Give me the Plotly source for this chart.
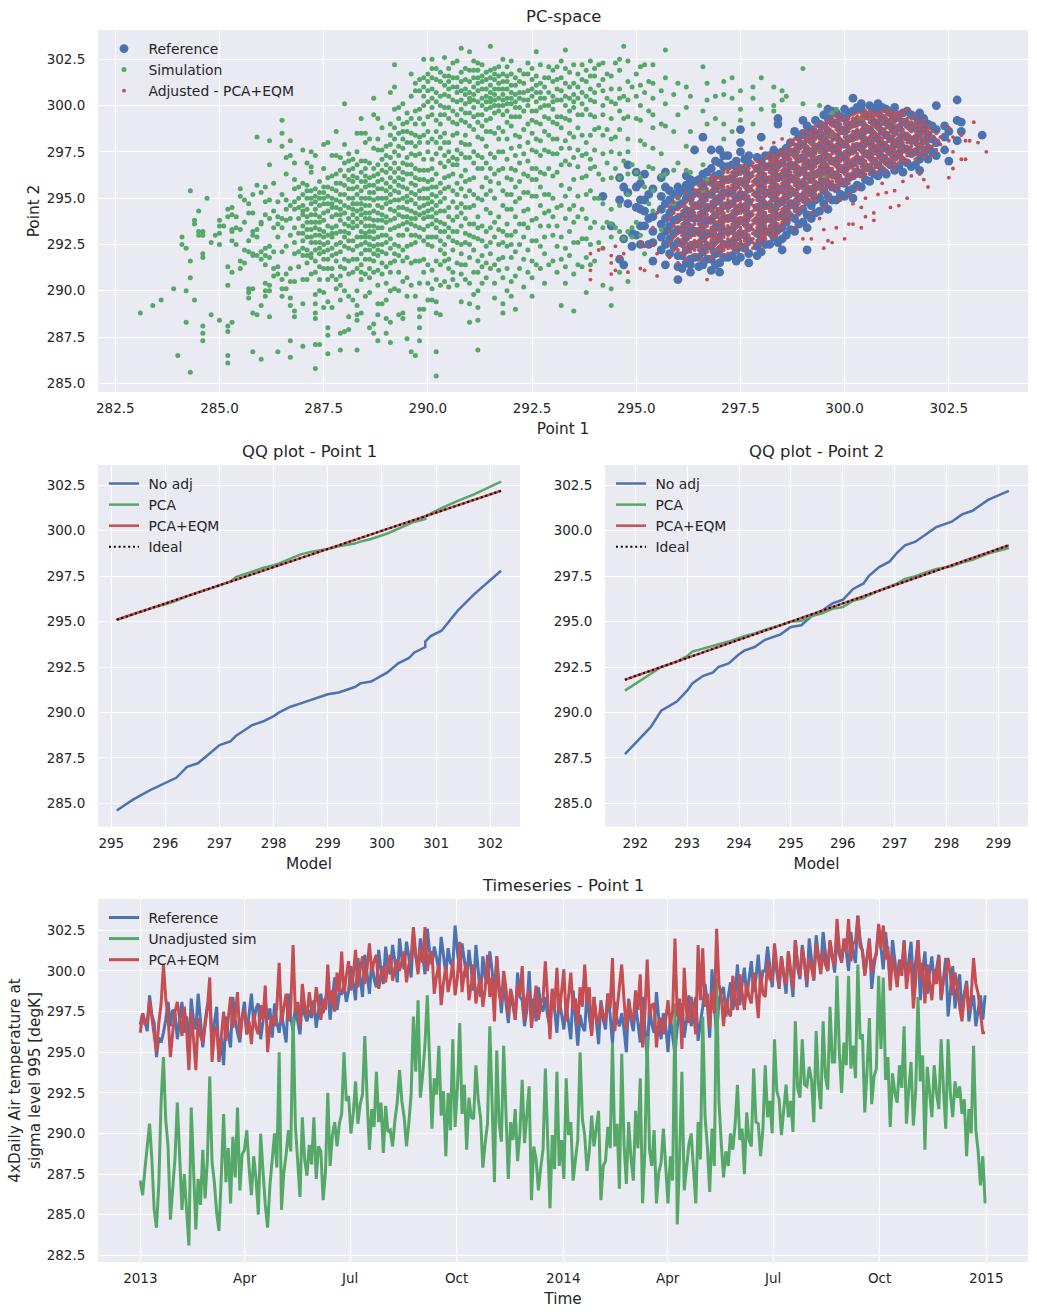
import pandas as pd
import plotly.graph_objects as go

BLUE, GREEN, RED = "#4C72B0", "#55A868", "#C44E52"
INK = "#262626"

# Scatter clouds stored as {Point 1 value: [Point 2 values]}
reference_columns = {
    294.2: [295.1], 294.4: [293.5], 294.6: [296.1, 294.9, 291.7], 294.7: [292.8, 291.4, 295.6],
    294.8: [296.8, 294.7, 295.3], 294.9: [292.4, 293.1], 295.0: [296.4, 295.6, 294.5, 293.0],
    295.1: [295.8, 294.9, 293.5, 292.5, 294.4], 295.2: [296.3, 294.9, 293.5, 294.3], 295.3: [292.5, 295.2, 293.9],
    295.4: [291.6, 293.2, 294.0, 295.5, 292.6], 295.6: [292.2, 292.9, 293.6, 294.4, 295.1, 296.1],
    295.7: [291.4, 292.5, 293.2, 293.9, 294.7, 295.6, 296.4],
    295.8: [292.0, 292.8, 293.5, 294.2, 294.9, 295.4],
    296.0: [290.6, 291.3, 291.9, 292.6, 293.3, 293.9, 294.6, 295.2, 295.6],
    296.2: [291.5, 292.2, 292.9, 293.6, 294.3, 295.0, 295.7, 296.2],
    296.3: [291.0, 291.4, 293.1, 294.0, 295.4, 296.0],
    296.4: [291.8, 292.5, 293.2, 293.9, 294.6, 295.3, 295.9, 297.6],
    296.6: [291.4, 292.1, 292.8, 293.5, 294.2, 294.9, 295.6, 296.3, 298.3],
    296.8: [291.1, 291.7, 292.4, 293.1, 293.8, 294.5, 295.2, 295.9, 296.6, 297.6],
    297.0: [291.0, 291.5, 292.2, 292.9, 293.6, 294.3, 295.0, 295.7, 296.3, 296.9, 297.6],
    297.2: [291.8, 292.5, 293.2, 293.9, 294.6, 295.3, 296.0, 296.7, 297.3],
    297.4: [291.6, 292.2, 292.9, 293.6, 294.3, 295.0, 295.7, 296.4, 297.0],
    297.5: [298.7, 298.0, 297.5],
    297.7: [291.5, 292.0, 292.7, 293.4, 294.1, 294.8, 295.5, 296.2, 296.9, 297.3],
    298.0: [292.1, 292.8, 293.5, 294.2, 294.9, 295.6, 296.3, 297.0, 298.3],
    298.2: [292.5, 293.2, 293.9, 294.6, 295.3, 296.0, 296.7, 297.3],
    298.4: [292.6, 293.3, 294.0, 294.7, 295.4, 296.1, 296.8, 297.4, 299.3, 299.0],
    298.5: [292.2],
    298.6: [293.0, 293.7, 294.4, 295.1, 295.8, 296.5, 297.2, 297.7],
    298.8: [293.2, 293.9, 294.6, 295.3, 296.0, 296.7, 297.4, 298.6],
    299.0: [293.7, 294.4, 295.1, 295.8, 296.5, 297.2, 297.9, 298.5, 299.2],
    299.1: [292.2],
    299.2: [293.9, 294.6, 295.3, 296.0, 296.7, 297.4, 298.1, 298.7],
    299.4: [294.3, 295.0, 295.7, 296.4, 297.1, 297.8, 298.5, 299.0],
    299.6: [294.4, 295.1, 295.8, 296.5, 297.2, 297.9, 298.6, 299.3, 299.8],
    299.8: [294.9, 295.5, 296.2, 296.9, 297.6, 298.3, 299.0, 299.6],
    300.0: [295.1, 295.8, 296.5, 297.2, 297.9, 298.6, 299.3, 299.8],
    300.2: [295.0, 295.5, 296.2, 296.9, 297.6, 298.3, 299.0, 299.7, 300.4],
    300.4: [295.6, 296.3, 297.0, 297.7, 298.4, 299.1, 299.8, 300.1],
    300.6: [295.9, 296.6, 297.3, 298.0, 298.7, 299.4, 300.0],
    300.8: [296.2, 296.8, 297.5, 298.2, 298.9, 299.6, 300.1],
    301.0: [296.3, 297.0, 297.7, 298.4, 299.1, 299.8],
    301.2: [296.5, 297.2, 297.9, 298.6, 299.3, 299.9],
    301.4: [296.4, 297.0, 297.7, 298.4, 299.1, 299.6],
    301.6: [296.7, 297.4, 298.1, 298.8, 299.5],
    301.8: [296.5, 297.1, 297.8, 298.5, 299.2, 299.6],
    302.0: [297.1, 297.7, 298.4, 299.0],
    302.2: [297.3, 298.0, 298.7, 300.0],
    302.4: [297.6, 298.3, 298.9],
    302.5: [297.0, 298.6],
    302.7: [298.1, 299.2, 300.3],
    302.8: [299.1, 298.6],
    303.3: [298.4],
}

reference_core_columns = {
    295.9: [292.4, 293.1, 293.8, 294.5, 295.2],
    296.1: [291.2, 291.9, 292.6, 293.3, 294.0, 294.7, 295.4],
    296.3: [291.7, 292.4, 293.4, 294.3, 295.0, 295.7],
    296.5: [291.3, 291.8, 292.5, 293.2, 293.9, 294.6, 295.3, 296.0],
    296.7: [291.7, 292.4, 293.1, 293.8, 294.5, 295.2, 295.9, 296.4],
    296.9: [291.4, 292.0, 292.7, 293.4, 294.1, 294.8, 295.5, 296.2, 297.0],
    297.1: [291.8, 292.5, 293.2, 293.9, 294.6, 295.3, 296.0, 296.7, 297.3],
    297.3: [291.9, 292.6, 293.3, 294.0, 294.7, 295.4, 296.1, 296.8],
    297.5: [291.8, 292.4, 293.1, 293.8, 294.5, 295.2, 295.9, 296.6],
    297.6: [292.3, 293.0, 293.7, 294.4, 295.1, 295.8, 296.5, 297.1],
    297.9: [291.9, 292.4, 293.1, 293.8, 294.5, 295.2, 295.9, 296.6, 297.2],
    298.1: [292.5, 293.2, 293.9, 294.6, 295.3, 296.0, 296.7, 297.3],
    298.3: [292.9, 293.6, 294.3, 295.0, 295.7, 296.4, 297.1, 297.6],
    298.5: [292.8, 293.4, 294.1, 294.8, 295.5, 296.2, 296.9, 297.5],
    298.7: [293.3, 294.0, 294.7, 295.4, 296.1, 296.8, 297.5, 298.0],
    298.9: [293.6, 294.3, 295.0, 295.7, 296.4, 297.1, 297.8, 298.3],
    299.1: [293.4, 294.1, 294.8, 295.5, 296.2, 296.9, 297.6, 298.3, 298.9],
    299.3: [294.2, 294.9, 295.6, 296.3, 297.0, 297.7, 298.4, 299.2],
    299.5: [294.7, 295.4, 296.1, 296.8, 297.5, 298.2, 298.9, 299.5],
    299.7: [294.9, 295.6, 296.3, 297.0, 297.7, 298.4, 299.1, 299.7],
    299.9: [295.2, 295.9, 296.6, 297.3, 298.0, 298.7, 299.4],
    300.1: [295.4, 296.1, 296.8, 297.5, 298.2, 298.9, 299.6],
    300.3: [295.7, 296.4, 297.1, 297.8, 298.5, 299.2, 299.9],
    300.5: [296.0, 296.7, 297.4, 298.1, 298.8, 299.5],
    300.7: [296.3, 297.0, 297.7, 298.4, 299.1, 299.8],
    300.9: [296.5, 297.2, 297.9, 298.6, 299.3, 299.9],
    301.1: [296.8, 297.5, 298.2, 298.9, 299.6],
    301.3: [296.7, 297.4, 298.1, 298.8, 299.5],
    301.5: [296.9, 297.6, 298.3, 299.0, 299.7],
    301.7: [296.8, 297.5, 298.2, 298.9, 299.4],
    301.9: [297.4, 298.1, 298.8, 299.3],
    302.1: [297.5, 298.2, 298.9],
}

simulation_columns = {
    283.1: [288.8], 283.4: [289.2], 283.6: [289.5], 283.9: [290.1], 284.0: [286.5],
    284.1: [292.9, 292.5], 284.2: [290.0, 288.3, 292.3], 284.3: [285.6, 290.7, 291.6, 295.4],
    284.4: [289.5, 293.8, 293.6], 284.5: [294.3, 293.2, 293.0],
    284.6: [292.0, 291.8, 293.2, 293.0, 288.1, 287.7, 287.3], 284.7: [295.0], 284.8: [292.6, 288.7],
    284.9: [293.0], 285.0: [293.1, 293.5, 293.8, 292.5, 288.4], 285.1: [293.5],
    285.2: [288.1, 287.8, 286.5, 286.1, 291.3, 290.3, 294.4, 294.0],
    285.3: [288.3, 294.5, 294.1, 293.3, 293.2, 292.7, 291.0], 285.4: [292.5, 293.4, 294.0],
    285.5: [291.2, 293.3, 295.5, 295.1, 291.6], 285.6: [293.7, 294.9, 291.5, 292.2],
    285.7: [294.2, 294.7, 290.1, 289.9, 289.6, 292.7, 292.1],
    285.8: [286.7, 288.8, 290.1, 292.0, 293.0, 293.2, 294.2, 295.2, 291.9],
    285.9: [288.7, 293.3, 292.9, 295.7, 298.3, 291.9],
    286.0: [286.3, 289.2, 295.3, 293.7, 292.1, 291.7, 293.6],
    286.1: [289.7, 290.4, 290.0, 295.6, 294.8, 294.1, 292.3, 291.9, 291.4],
    286.2: [288.6, 290.3, 290.0, 294.9, 293.9, 298.1, 296.8, 292.4, 291.8],
    286.3: [295.8, 294.3, 293.4, 291.2, 290.8, 292.1],
    286.4: [286.7, 290.9, 291.3, 292.9, 293.6, 294.0, 294.8],
    286.5: [289.7, 290.1, 290.6, 292.1, 293.4, 293.9, 295.2, 297.8, 298.5, 299.2],
    286.6: [290.1, 292.4, 293.8, 294.4, 294.9, 296.3, 297.2, 290.9],
    286.7: [286.4, 287.3, 289.6, 289.2, 290.5, 291.2, 293.0, 293.9, 294.6, 297.3, 298.1],
    286.8: [288.9, 290.5, 292.0, 292.6, 293.4, 294.4, 294.8, 295.5, 296.9, 296.0, 288.6],
    286.9: [291.3, 292.1, 293.1, 293.9, 294.5, 295.0, 295.6],
    287.0: [287.0, 289.3, 290.6, 291.9, 292.3, 293.1, 294.1, 294.6, 295.8, 297.6],
    287.1: [290.6, 291.5, 292.2, 292.9, 293.7, 294.4, 295.0, 296.9, 295.4],
    287.2: [290.9, 291.8, 292.6, 293.3, 294.1, 294.7, 295.4, 296.4, 297.5, 296.7],
    287.3: [285.8, 287.1, 288.5, 288.8, 289.3, 289.8, 291.0, 292.2, 293.0, 293.7, 294.4, 295.1, 295.5, 297.3],
    287.4: [287.1, 290.0, 291.3, 292.0, 292.6, 293.3, 294.0, 294.6, 295.3, 295.9],
    287.5: [289.1, 289.9, 291.7, 292.5, 293.2, 293.8, 295.0, 295.6, 296.6, 297.9],
    287.6: [286.6, 287.6, 288.0, 289.4, 290.6, 291.2, 292.2, 293.0, 294.7, 295.6, 298.0],
    287.7: [289.1, 290.8, 291.9, 292.9, 293.4, 294.5, 295.0, 296.2, 297.3],
    287.8: [290.1, 290.6, 292.0, 293.1, 294.1, 294.9, 296.3, 297.3, 298.6],
    287.9: [286.8, 287.7, 289.5, 290.8, 291.3, 292.6, 293.8, 294.4, 295.2, 296.5, 297.2],
    288.0: [287.8, 290.0, 291.7, 292.9, 293.6, 294.6, 295.7, 296.9, 300.1, 297.9],
    288.1: [287.9, 288.6, 289.7, 291.6, 292.3, 293.1, 293.9, 295.0, 296.0, 297.0, 297.4],
    288.2: [289.5, 291.0, 292.2, 293.4, 294.1, 294.7, 295.5, 296.2, 297.1],
    288.3: [286.8, 288.4, 288.7, 289.2, 290.0, 291.2, 292.4, 293.5, 294.3, 295.2, 296.8, 297.5, 298.5],
    288.4: [288.8, 290.6, 291.4, 292.0, 292.9, 293.7, 294.4, 295.0, 295.9, 297.0, 299.3, 298.5],
    288.5: [289.7, 290.9, 291.7, 292.6, 293.1, 293.9, 294.6, 295.6, 296.2, 297.0, 298.0, 298.5],
    288.6: [288.0, 289.9, 291.2, 292.2, 292.9, 293.5, 294.2, 295.3, 296.1, 296.9, 298.2],
    288.7: [288.2, 287.7, 291.0, 292.4, 293.2, 293.8, 294.9, 295.7, 296.6, 297.7, 299.5, 300.4],
    288.8: [287.3, 288.7, 289.3, 290.3, 291.9, 292.5, 293.4, 294.6, 295.5, 296.3, 297.6, 298.2, 299.3],
    288.9: [289.3, 290.9, 292.1, 293.0, 294.1, 295.0, 296.0, 297.1, 298.8],
    289.0: [287.7, 288.5, 289.5, 290.4, 291.3, 292.6, 293.7, 294.7, 295.4, 296.4, 297.8],
    289.1: [287.2, 288.3, 290.0, 291.5, 292.3, 293.3, 294.4, 295.6, 296.6, 297.9, 299.0, 300.7],
    289.2: [290.1, 291.6, 292.0, 293.9, 294.9, 295.9, 296.9, 298.2, 299.8, 301.0, 302.2],
    289.3: [288.7, 290.0, 291.0, 291.9, 293.0, 294.1, 295.3, 296.1, 297.3, 298.5, 299.9],
    289.4: [288.8, 288.5, 290.5, 292.2, 293.6, 294.5, 295.6, 296.4, 298.2, 299.0, 300.1],
    289.5: [287.4, 289.7, 290.7, 291.8, 293.3, 294.0, 295.1, 296.3, 297.2, 298.6, 299.6],
    289.6: [286.7, 290.3, 291.5, 292.5, 293.9, 294.9, 295.8, 296.8, 298.0, 299.3, 300.5, 301.7],
    289.7: [286.5, 289.7, 291.6, 292.6, 293.5, 294.2, 295.2, 296.1, 297.8, 299.0, 300.8, 301.2],
    289.8: [287.3, 288.0, 288.6, 289.0, 290.4, 291.6, 292.9, 294.1, 295.0, 296.0, 297.4, 298.3, 299.3, 301.4],
    289.9: [289.0, 291.0, 292.7, 293.9, 294.6, 295.5, 296.5, 299.0, 300.5, 302.5, 301.5],
    290.0: [289.5, 291.4, 292.5, 293.5, 294.3, 295.0, 295.9, 297.5, 298.6, 300.2, 301.3],
    290.1: [290.1, 291.1, 292.4, 293.6, 294.4, 295.2, 296.0, 297.1, 299.5, 300.9, 302.5, 302.0],
    290.2: [285.4, 286.7, 288.8, 289.4, 290.6, 292.9, 293.8, 294.6, 295.6, 298.0, 299.2, 300.7, 302.0],
    290.3: [288.7, 290.3, 291.4, 292.7, 293.7, 294.3, 295.3, 296.9, 297.7, 299.0, 300.0, 301.3],
    290.4: [290.5, 291.6, 292.5, 293.6, 295.0, 296.1, 297.3, 298.5, 299.5, 300.6, 301.1, 302.6],
    290.5: [290.2, 291.2, 292.9, 294.5, 295.6, 297.0, 298.0, 299.9, 300.5, 301.6, 302.0],
    290.6: [291.0, 292.2, 293.2, 294.8, 296.3, 297.2, 298.4, 299.7, 301.0],
    290.7: [290.3, 291.5, 292.6, 294.0, 295.2, 296.8, 297.6, 299.0, 300.2, 301.5, 302.4],
    290.8: [289.4, 290.9, 292.0, 293.5, 294.7, 296.2, 298.0, 299.8, 300.8, 303.1],
    290.9: [291.4, 292.6, 293.9, 295.1, 296.5, 297.9, 299.1, 300.1, 301.4, 302.0],
    291.0: [288.3, 289.3, 291.8, 292.5, 293.6, 295.4, 297.2, 298.9, 299.6, 300.7, 301.9, 302.9],
    291.1: [291.0, 292.9, 294.6, 296.1, 297.5, 299.4, 300.3, 301.0, 302.4],
    291.2: [286.8, 288.4, 289.1, 290.0, 291.0, 292.8, 294.0, 295.0, 296.6, 298.3, 299.5, 300.8, 301.5, 302.3],
    291.3: [290.4, 291.9, 293.5, 295.6, 297.2, 298.9, 300.0, 301.6, 302.2],
    291.4: [291.5, 292.4, 294.4, 296.1, 297.8, 299.2, 300.2, 300.9, 301.8],
    291.5: [291.2, 292.6, 293.4, 295.4, 296.6, 298.6, 299.9, 300.4, 301.1, 303.2],
    291.6: [289.6, 291.4, 292.9, 295.0, 297.2, 299.6, 300.6, 301.4, 302.0],
    291.7: [291.1, 292.5, 294.0, 295.8, 297.5, 298.2, 300.0, 300.9, 302.1],
    291.8: [289.3, 288.8, 291.8, 293.2, 294.6, 296.6, 298.6, 300.3, 300.6, 301.3, 302.5],
    291.9: [291.2, 292.4, 293.6, 295.2, 297.1, 299.1, 300.1, 300.9, 301.6],
    292.0: [290.5, 291.8, 293.0, 294.4, 296.0, 297.7, 298.9, 300.4, 301.1, 302.4],
    292.1: [289.0, 292.1, 294.0, 295.6, 297.3, 299.4, 300.2, 301.5],
    292.2: [291.2, 292.5, 295.0, 296.9, 298.3, 299.9, 300.7, 301.9],
    292.3: [290.2, 292.9, 294.3, 296.3, 298.7, 300.3, 301.2],
    292.4: [291.0, 293.4, 295.3, 297.0, 299.0, 300.8, 301.7],
    292.5: [289.7, 291.6, 292.7, 295.1, 296.6, 298.5, 299.7, 300.5, 302.0],
    292.6: [291.4, 293.9, 296.0, 297.5, 299.1, 300.2, 301.1, 302.9],
    292.7: [292.4, 294.6, 296.4, 298.1, 299.9, 300.7],
    292.8: [290.4, 292.9, 295.2, 297.6, 299.4, 300.4, 301.5],
    292.9: [293.5, 294.3, 296.6, 298.4, 300.0, 302.1],
    293.0: [291.6, 295.0, 297.4, 299.1, 300.5, 301.3],
    293.1: [292.4, 294.5, 296.4, 298.2, 299.4, 300.9, 302.1],
    293.2: [289.2, 291.7, 295.7, 297.7, 298.8, 300.3, 301.5],
    293.3: [290.4, 292.3, 293.9, 297.0, 300.5, 302.0, 303.0],
    293.4: [293.2, 295.5, 296.8, 298.5, 299.7, 301.0],
    293.5: [288.9, 292.6, 294.6, 297.2, 299.9, 300.6, 302.2],
    293.6: [291.4, 295.1, 296.7, 298.8, 300.4, 301.7],
    293.7: [294.4, 297.3, 299.5, 300.7, 302.2],
    293.8: [291.8, 293.9, 296.2, 298.0, 299.8, 301.3],
    293.9: [291.4, 293.4, 295.4, 297.1, 299.5, 300.9, 302.4],
    294.0: [293.7, 296.7, 298.7, 300.2, 301.6],
    294.1: [292.6, 295.0, 296.3, 298.8, 301.1, 302.2],
    294.2: [290.3, 293.4, 294.7, 297.4, 300.0, 300.8, 302.3],
    294.3: [293.7, 296.9, 298.7, 300.4, 301.7],
    294.4: [289.2, 290.1, 292.9, 294.4, 296.1, 297.5, 299.3, 300.9],
    294.5: [293.4, 296.6, 298.3, 300.1, 302.3],
    294.6: [291.0, 296.1, 298.7, 300.4, 301.9, 302.5],
    294.7: [292.8, 297.0, 299.3, 300.5, 303.2],
    294.8: [290.5, 295.2, 297.5, 298.2, 300.3, 302.4],
    294.9: [292.9, 293.4, 296.8, 301.0],
    295.0: [293.7, 296.4, 299.3, 300.5, 301.7],
    295.1: [293.0, 298.1, 300.0, 302.1],
    295.2: [292.0, 295.6, 297.9, 300.7, 302.2],
    295.3: [294.7, 296.7, 299.7, 301.3],
    295.4: [294.3, 295.4, 297.7, 299.5, 301.2, 302.2],
    295.6: [293.3, 296.2, 297.4, 299.0, 300.8],
    295.7: [296.3, 298.9, 300.1, 301.5, 303.0],
    295.9: [294.7, 296.5, 298.6, 300.6],
    296.0: [295.0, 296.9, 299.5, 301.2],
    296.2: [296.5, 297.8, 299.9, 301.0],
    296.3: [296.4, 298.6, 300.5],
    296.6: [295.4, 296.8, 299.7, 302.1],
    296.7: [296.0, 299.0, 301.2, 300.3],
    296.9: [299.3, 300.5],
    297.1: [298.2, 299.0, 301.3, 300.6],
    297.3: [300.4, 298.6, 301.5],
    297.5: [299.8, 300.8, 299.2],
    297.8: [299.0, 300.4, 301.0],
    298.0: [301.5, 299.8],
    298.3: [301.0, 300.0, 299.7],
    298.5: [300.8, 300.3],
    298.6: [300.5],
    299.0: [302.0, 300.1],
    299.4: [300.0, 297.5],
    299.5: [296.2],
    299.7: [299.6, 298.4],
    299.8: [299.8],
    300.4: [299.3],
}

simulation_core_columns = {
    287.0: [292.7, 293.5, 294.3, 295.2], 287.1: [291.9, 293.3, 294.0, 295.7], 287.2: [292.0, 292.9, 293.7, 295.0],
    287.3: [291.6, 292.6, 293.4, 294.1, 294.8], 287.4: [290.6, 292.3, 293.0, 293.7, 295.0],
    287.5: [291.2, 292.1, 292.9, 294.2, 294.7, 295.3], 287.6: [291.7, 292.6, 293.5, 294.3, 295.1, 296.1],
    287.7: [291.2, 292.3, 293.1, 294.0, 294.7, 295.5], 287.8: [291.6, 292.5, 293.5, 294.5, 295.4, 295.8],
    287.9: [290.3, 292.1, 293.2, 294.1, 294.8, 295.8], 288.0: [291.2, 292.4, 293.2, 294.2, 295.2, 296.2],
    288.1: [290.9, 292.7, 293.5, 294.5, 295.5, 296.5], 288.2: [291.7, 292.7, 293.7, 294.4, 295.0, 295.9, 296.6],
    288.3: [291.7, 292.9, 293.9, 294.7, 295.6, 296.1], 288.4: [291.0, 292.5, 293.2, 294.1, 294.7, 295.4, 296.4],
    288.5: [292.2, 292.9, 293.5, 294.2, 295.0, 295.9, 296.6], 288.6: [290.7, 291.7, 292.5, 293.2, 293.9, 294.6, 295.0, 295.7],
    288.7: [291.6, 292.0, 292.8, 293.5, 294.3, 295.3, 296.2], 288.8: [291.1, 292.2, 292.9, 293.8, 294.2, 295.0, 295.9, 296.8],
    288.9: [291.5, 292.5, 293.4, 293.8, 294.5, 295.5, 296.5, 297.6], 289.0: [292.0, 293.0, 294.0, 295.0, 295.8, 296.8, 297.3],
    289.1: [291.0, 292.8, 293.8, 294.8, 295.2, 296.1, 297.2, 298.4], 289.2: [292.5, 293.4, 294.3, 295.4, 296.4, 297.5, 298.8],
    289.3: [292.4, 293.5, 294.5, 294.9, 295.7, 296.6, 297.8, 299.3], 289.4: [291.6, 293.0, 294.0, 295.0, 296.0, 296.9, 297.7, 298.6],
    289.5: [292.4, 293.7, 294.4, 294.8, 295.5, 296.8, 298.0, 299.1], 289.6: [293.0, 293.6, 294.3, 295.3, 296.3, 297.4, 298.5],
    289.7: [293.0, 293.9, 294.7, 295.7, 296.6, 297.3, 298.4, 299.7], 289.8: [293.4, 294.5, 295.4, 296.5, 298.0, 299.8, 300.8],
    289.9: [291.7, 293.3, 294.2, 295.0, 296.0, 297.1, 298.4, 300.0, 301.0], 290.0: [290.4, 292.9, 294.0, 294.7, 295.5, 296.5, 298.0, 299.4, 300.8, 301.7],
    290.1: [289.5, 292.9, 294.0, 294.8, 295.6, 296.6, 298.2, 299.9, 300.4, 301.5], 290.2: [291.6, 293.4, 294.2, 295.1, 296.3, 297.4, 298.6, 300.2, 301.4],
    290.3: [292.2, 293.2, 294.8, 295.8, 298.3, 299.5, 300.5, 301.8], 290.4: [292.0, 293.2, 294.3, 295.5, 296.7, 298.0, 299.9, 301.6],
    290.5: [291.7, 293.4, 294.0, 296.2, 297.5, 299.3, 300.9, 301.3], 290.6: [290.6, 292.7, 293.8, 295.4, 296.8, 299.1, 300.3, 301.5, 302.3],
    290.7: [293.2, 294.5, 295.8, 297.1, 298.5, 299.5, 300.7, 301.0], 290.8: [291.4, 292.5, 294.2, 295.5, 297.4, 299.2, 300.3, 301.3, 301.8],
    290.9: [290.6, 293.1, 294.5, 295.9, 297.2, 298.4, 299.6, 300.6, 300.9], 291.0: [290.4, 293.0, 294.5, 296.0, 297.9, 300.2, 300.4, 301.3],
    291.1: [289.8, 292.2, 293.6, 295.2, 296.9, 298.7, 299.9, 300.6, 301.5, 301.9], 291.2: [291.6, 293.4, 297.3, 299.1, 300.2, 301.2, 301.9],
    291.3: [291.3, 292.7, 294.9, 296.6, 298.2, 299.5, 300.4, 300.9, 301.3], 291.4: [290.7, 293.2, 295.2, 296.9, 298.6, 299.8, 300.5, 301.4],
    291.5: [292.0, 294.2, 295.9, 297.4, 299.3, 300.2, 300.7, 301.5, 301.9], 291.6: [290.4, 293.7, 296.3, 298.5, 300.0, 300.3, 300.9, 301.7],
    291.7: [291.7, 293.3, 296.5, 298.8, 299.7, 300.4, 301.2, 301.6], 291.8: [290.7, 292.6, 295.4, 297.5, 299.5, 300.0, 300.9, 301.7],
    291.9: [290.0, 293.0, 294.4, 296.1, 298.2, 299.7, 300.4, 301.3, 302.1], 292.0: [289.7, 292.5, 295.2, 296.6, 299.4, 300.1, 300.7, 301.7],
    292.1: [290.8, 293.2, 294.8, 296.5, 298.4, 299.9, 300.6, 301.1], 292.2: [293.6, 295.9, 297.8, 299.4, 300.4, 301.3],
    292.3: [291.7, 293.6, 295.3, 297.4, 299.7, 300.7, 301.7], 292.4: [292.2, 294.4, 296.2, 298.0, 300.0, 300.3, 302.3],
    292.5: [290.7, 293.8, 296.0, 297.6, 299.2, 300.9, 301.4], 292.6: [292.7, 295.1, 296.6, 298.2, 299.7, 300.7, 301.6],
    292.7: [291.2, 293.5, 295.6, 297.3, 299.0, 300.4, 301.2, 302.2], 292.8: [292.0, 294.2, 296.3, 298.6, 300.0, 301.0],
    292.9: [291.4, 295.2, 297.5, 299.3, 300.7, 301.5], 293.0: [293.0, 294.0, 296.2, 298.2, 299.8, 300.2, 301.9],
    293.1: [291.0, 293.5, 297.4, 299.0, 300.3, 301.4], 293.2: [292.9, 294.6, 296.8, 299.4, 300.8, 302.4],
    293.3: [291.3, 295.1, 298.1, 299.3, 300.0, 301.2], 293.4: [291.9, 294.4, 297.7, 299.2, 300.4, 301.8],
    293.5: [290.9, 293.7, 296.0, 298.3, 300.2, 301.2], 293.6: [292.6, 294.0, 297.6, 299.5, 301.0],
    293.7: [291.3, 292.8, 296.1, 298.4, 300.1, 301.4], 293.8: [289.9, 292.8, 295.2, 297.4, 300.5, 301.9],
    293.9: [292.5, 296.6, 298.4, 300.3, 301.6], 294.0: [291.6, 295.0, 297.6, 299.4, 300.7, 302.0],
    294.2: [292.3, 296.0, 298.4, 299.5, 301.4], 294.4: [293.6, 298.2, 300.2, 301.6],
    294.6: [293.2, 294.6, 297.4, 299.7, 300.9], 294.8: [293.2, 296.3, 299.4, 301.3],
    295.1: [296.1, 299.2, 301.1], 295.4: [296.6, 298.8, 300.4],
}

adjusted_columns = {
    293.9: [292.0, 291.1, 290.6], 294.1: [292.2], 294.2: [292.3], 294.4: [291.5, 291.9, 290.9],
    294.5: [291.1, 292.4], 294.6: [291.8], 294.7: [292.0], 294.8: [291.0], 295.1: [291.2, 292.6],
    295.2: [291.1, 292.4], 295.4: [292.5, 293.4], 295.5: [290.8, 292.0, 294.2],
    295.8: [291.8, 292.6, 293.2, 293.9, 294.5],
    295.9: [292.2, 292.9, 293.5, 294.2, 294.8], 296.0: [291.5, 292.5, 293.1, 293.7, 294.4, 295.0],
    296.1: [292.0, 292.7, 293.3, 293.9, 294.6], 296.2: [291.7, 292.3, 292.9, 293.5, 294.1, 294.8, 295.3],
    296.3: [292.1, 292.6, 293.2, 293.8, 294.4, 295.0], 296.4: [291.9, 292.4, 293.0, 293.6, 294.2, 294.7, 295.4],
    296.5: [292.2, 292.7, 293.3, 293.9, 294.5, 295.1, 295.7], 296.6: [291.7, 292.4, 293.0, 293.5, 294.0, 294.6, 295.2, 295.9],
    296.7: [290.6, 292.1, 292.6, 293.2, 293.8, 294.3, 294.9, 295.5],
    296.8: [291.8, 292.4, 292.9, 293.4, 294.0, 294.5, 295.1, 295.7, 296.2],
    296.9: [292.2, 292.7, 293.1, 293.7, 294.2, 294.8, 295.4, 295.9],
    297.0: [291.9, 292.4, 292.9, 293.4, 293.9, 294.4, 295.0, 295.6, 296.1],
    297.1: [292.2, 292.6, 293.2, 293.7, 294.2, 294.7, 295.3, 295.8, 296.4],
    297.2: [292.0, 292.5, 293.0, 293.5, 294.0, 294.6, 295.1, 295.6, 296.1, 296.6],
    297.3: [292.3, 292.8, 293.3, 293.8, 294.3, 294.8, 295.4, 295.9, 296.4],
    297.4: [292.1, 292.6, 293.1, 293.6, 294.1, 294.6, 295.2, 295.7, 296.2, 296.7],
    297.5: [292.4, 292.9, 293.4, 293.9, 294.4, 294.9, 295.5, 296.0, 296.5],
    297.6: [292.2, 292.7, 293.2, 293.7, 294.2, 294.7, 295.3, 295.8, 296.3, 296.8],
    297.7: [292.5, 293.0, 293.5, 294.0, 294.5, 295.1, 295.6, 296.1, 296.6],
    297.8: [292.3, 292.8, 293.3, 293.8, 294.3, 294.9, 295.4, 295.9, 296.4, 296.9],
    297.9: [292.7, 293.1, 293.6, 294.1, 294.6, 295.2, 295.7, 296.2, 296.7],
    298.0: [292.5, 293.0, 293.4, 293.9, 294.4, 295.0, 295.5, 296.0, 296.5, 297.0, 297.7],
    298.1: [292.8, 293.2, 293.7, 294.2, 294.8, 295.3, 295.8, 296.3, 296.8, 297.2],
    298.2: [293.0, 293.5, 294.0, 294.5, 295.1, 295.6, 296.1, 296.6, 297.1],
    298.3: [292.9, 293.3, 293.8, 294.3, 294.9, 295.4, 295.9, 296.4, 296.9, 297.3, 298.0],
    298.4: [293.1, 293.6, 294.1, 294.7, 295.2, 295.7, 296.2, 296.7, 297.2],
    298.5: [293.4, 293.9, 294.4, 295.0, 295.5, 296.0, 296.5, 297.0, 297.5, 298.2],
    298.6: [293.7, 294.2, 294.8, 295.3, 295.8, 296.3, 296.8, 297.3],
    298.7: [293.9, 294.5, 295.1, 295.6, 296.1, 296.6, 297.1, 297.6, 298.1],
    298.8: [293.4, 294.3, 294.9, 295.4, 295.9, 296.4, 296.9, 297.4, 297.9],
    298.9: [294.1, 294.7, 295.2, 295.7, 296.2, 296.7, 297.2, 297.7, 298.2],
    299.0: [292.8, 294.5, 295.0, 295.5, 296.0, 296.5, 297.0, 297.5, 298.0, 298.6],
    299.1: [294.8, 295.3, 295.8, 296.3, 296.8, 297.3, 297.8, 298.3],
    299.2: [292.8, 294.2, 295.1, 295.6, 296.1, 296.6, 297.1, 297.6, 298.1, 298.6],
    299.3: [294.9, 295.4, 295.9, 296.4, 296.9, 297.4, 297.9, 298.4, 298.9],
    299.4: [293.9, 295.2, 295.7, 296.2, 296.7, 297.2, 297.7, 298.2, 298.7],
    299.5: [292.3, 293.3, 294.5, 295.5, 296.0, 296.5, 297.0, 297.5, 298.0, 298.5, 299.0],
    299.6: [292.7, 294.9, 295.3, 295.8, 296.3, 296.8, 297.3, 297.8, 298.3, 298.8, 299.2],
    299.7: [292.6, 295.6, 296.1, 296.6, 297.1, 297.6, 298.1, 298.6, 299.1],
    299.8: [293.4, 295.4, 295.9, 296.4, 296.9, 297.4, 297.9, 298.4, 298.9, 299.4],
    299.9: [294.9, 295.7, 296.2, 296.7, 297.2, 297.7, 298.2, 298.7, 299.2],
    300.0: [292.8, 296.0, 296.5, 297.0, 297.5, 298.0, 298.5, 299.0, 299.3],
    300.1: [293.6, 295.2, 295.8, 296.3, 296.8, 297.3, 297.8, 298.3, 298.8, 299.3],
    300.2: [293.6, 294.7, 296.1, 296.6, 297.1, 297.6, 298.1, 298.6, 299.1, 299.5],
    300.3: [295.5, 296.4, 296.9, 297.4, 297.9, 298.4, 298.9, 299.4],
    300.4: [293.4, 294.5, 296.2, 296.7, 297.2, 297.7, 298.2, 298.7, 299.2, 299.6],
    300.5: [294.0, 295.0, 296.5, 297.0, 297.5, 298.0, 298.5, 299.0, 299.5],
    300.6: [296.3, 296.8, 297.3, 297.8, 298.3, 298.8, 299.3, 299.7],
    300.7: [293.8, 294.2, 296.6, 297.1, 297.6, 298.1, 298.6, 299.1, 299.6],
    300.8: [295.2, 296.4, 296.9, 297.4, 297.9, 298.4, 298.9, 299.4],
    300.9: [295.8, 296.7, 297.2, 297.7, 298.2, 298.7, 299.2, 299.7],
    301.0: [295.3, 296.5, 297.0, 297.5, 298.0, 298.5, 299.0, 299.5],
    301.1: [294.5, 296.8, 297.3, 297.8, 298.3, 298.8, 299.3, 299.7],
    301.2: [295.4, 296.6, 297.1, 297.6, 298.1, 298.6, 299.1, 299.6],
    301.3: [294.6, 296.9, 297.4, 297.9, 298.4, 298.9, 299.4],
    301.4: [295.9, 297.2, 297.7, 298.2, 298.7, 299.2, 299.7],
    301.5: [295.0, 297.0, 297.5, 298.0, 298.5, 299.0, 299.8],
    301.6: [296.2, 297.3, 297.8, 298.3, 298.8, 299.3],
    301.7: [297.1, 297.6, 298.1, 298.6, 299.1, 299.5],
    301.8: [296.3, 297.4, 297.9, 298.4, 298.9],
    301.9: [296.0, 297.2, 297.7, 298.2, 298.7, 299.2],
    302.0: [295.6, 297.5, 298.0, 298.5, 298.9],
    302.1: [297.3, 297.8, 298.3, 298.6],
    302.2: [297.6, 298.1, 298.5],
    302.3: [297.9, 298.3],
    302.5: [296.1, 298.1, 298.8],
    302.6: [296.6, 297.5, 298.3],
    302.8: [297.1, 298.4],
    302.9: [297.1, 298.1],
    303.0: [298.1],
    303.1: [299.1],
    303.2: [298.0],
    303.4: [297.5],
}

adjusted_core_columns = {
    296.0: [292.2, 292.8, 293.4, 294.1], 296.1: [292.4, 293.0, 293.6, 294.3], 296.2: [292.1, 292.6, 293.2, 293.8, 294.5],
    296.3: [292.4, 292.9, 293.5, 294.1, 294.7], 296.4: [292.2, 292.7, 293.3, 293.9, 294.5, 295.1],
    296.5: [292.5, 293.0, 293.6, 294.2, 294.8, 295.4], 296.6: [292.1, 292.7, 293.3, 293.8, 294.3, 294.9, 295.5],
    296.7: [292.4, 292.9, 293.5, 294.1, 294.6, 295.2, 295.8], 296.8: [292.1, 292.7, 293.2, 293.7, 294.3, 294.8, 295.4, 296.0],
    296.9: [292.5, 292.9, 293.4, 294.0, 294.5, 295.1, 295.7, 296.1], 297.0: [292.2, 292.7, 293.2, 293.7, 294.2, 294.7, 295.3, 295.8],
    297.1: [292.4, 292.9, 293.5, 294.0, 294.5, 295.0, 295.6, 296.1], 297.2: [292.3, 292.8, 293.3, 293.8, 294.3, 294.9, 295.4, 295.9, 296.4],
    297.3: [292.6, 293.1, 293.6, 294.1, 294.6, 295.1, 295.7, 296.2], 297.4: [292.4, 292.9, 293.4, 293.9, 294.4, 294.9, 295.5, 296.0, 296.5],
    297.5: [292.7, 293.2, 293.7, 294.2, 294.7, 295.2, 295.8, 296.3], 297.6: [292.5, 293.0, 293.5, 294.0, 294.5, 295.0, 295.6, 296.1, 296.6],
    297.7: [292.8, 293.3, 293.8, 294.3, 294.8, 295.4, 295.9, 296.4], 297.8: [292.6, 293.1, 293.6, 294.1, 294.6, 295.2, 295.7, 296.2, 296.7],
    297.9: [293.4, 293.9, 294.4, 294.9, 295.5, 296.0, 296.5, 297.0], 298.0: [292.8, 293.2, 293.7, 294.2, 294.7, 295.3, 295.8, 296.3, 296.8],
    298.1: [293.0, 293.5, 294.0, 294.5, 295.1, 295.6, 296.1, 296.6], 298.2: [293.3, 293.8, 294.3, 294.8, 295.4, 295.9, 296.4, 296.9, 297.4],
    298.3: [293.1, 293.6, 294.1, 294.6, 295.2, 295.7, 296.2, 296.7, 297.1], 298.4: [293.4, 293.9, 294.4, 295.0, 295.5, 296.0, 296.5, 297.0, 297.5],
    298.5: [293.7, 294.2, 294.7, 295.3, 295.8, 296.3, 296.8, 297.3], 298.6: [294.0, 294.5, 295.1, 295.6, 296.1, 296.6, 297.1, 297.6],
    298.7: [294.2, 294.8, 295.4, 295.9, 296.4, 296.9, 297.4, 297.9], 298.8: [294.6, 295.2, 295.7, 296.2, 296.7, 297.2, 297.7, 298.2],
    298.9: [294.4, 295.0, 295.5, 296.0, 296.5, 297.0, 297.5, 298.0], 299.0: [294.8, 295.3, 295.8, 296.3, 296.8, 297.3, 297.8, 298.3],
    299.1: [295.1, 295.6, 296.1, 296.6, 297.1, 297.6, 298.1, 298.6], 299.2: [294.9, 295.4, 295.9, 296.4, 296.9, 297.4, 297.9, 298.4],
    299.3: [295.2, 295.7, 296.2, 296.7, 297.2, 297.7, 298.2, 298.7], 299.4: [295.5, 296.0, 296.5, 297.0, 297.5, 298.0, 298.5, 299.0],
    299.5: [295.8, 296.3, 296.8, 297.3, 297.8, 298.3, 298.8], 299.6: [295.6, 296.1, 296.6, 297.1, 297.6, 298.1, 298.6, 299.1],
    299.7: [295.9, 296.4, 296.9, 297.4, 297.9, 298.4, 298.9, 299.4], 299.8: [295.7, 296.2, 296.7, 297.2, 297.7, 298.2, 298.7, 299.2],
    299.9: [296.0, 296.5, 297.0, 297.5, 298.0, 298.5, 299.0, 299.5], 300.0: [295.8, 296.3, 296.8, 297.3, 297.8, 298.3, 298.8],
    300.1: [296.1, 296.6, 297.1, 297.6, 298.1, 298.6, 299.1], 300.2: [296.4, 296.9, 297.4, 297.9, 298.4, 298.9, 299.3],
    300.3: [296.2, 296.7, 297.2, 297.7, 298.2, 298.7, 299.2, 299.6], 300.4: [296.5, 297.0, 297.5, 298.0, 298.5, 299.0, 299.4],
    300.5: [296.3, 296.8, 297.3, 297.8, 298.3, 298.8, 299.3, 299.7], 300.6: [296.6, 297.1, 297.6, 298.1, 298.6, 299.1, 299.5],
    300.7: [296.9, 297.4, 297.9, 298.4, 298.9, 299.4], 300.8: [296.7, 297.2, 297.7, 298.2, 298.7, 299.2, 299.6],
    300.9: [297.0, 297.5, 298.0, 298.5, 299.0, 299.5], 301.0: [296.8, 297.3, 297.8, 298.3, 298.8, 299.3, 299.7],
    301.1: [297.1, 297.6, 298.1, 298.6, 299.1, 299.5], 301.2: [296.9, 297.4, 297.9, 298.4, 298.9, 299.4],
    301.3: [297.2, 297.7, 298.2, 298.7, 299.2, 299.6], 301.4: [297.0, 297.5, 298.0, 298.5, 299.0, 299.5],
    301.5: [297.3, 297.8, 298.3, 298.8, 299.3], 301.6: [297.6, 298.1, 298.6, 299.1], 301.7: [297.4, 297.9, 298.4, 298.9],
    301.8: [297.7, 298.2, 298.7, 299.2], 301.9: [297.5, 298.0, 298.5, 299.0], 302.0: [297.8, 298.3, 298.7],
}

# Quantile-quantile curves for both grid points
qq1_model = [295.1, 295.4, 295.7, 296.0, 296.2, 296.4, 296.6, 296.8, 297.0, 297.2, 297.3, 297.5, 297.6, 297.8, 298.0,
             298.1, 298.3, 298.5, 298.7, 299.0, 299.2, 299.5, 299.6, 299.8, 300.1, 300.3, 300.5, 300.6, 300.8, 300.8,
             300.9, 301.1, 301.4, 301.7, 302.2]
qq1_noadj = [284.6, 285.2, 285.7, 286.1, 286.4, 287.0, 287.2, 287.7, 288.2, 288.4, 288.7, 289.1, 289.3, 289.5, 289.8,
             290.0, 290.3, 290.5, 290.7, 291.0, 291.1, 291.4, 291.6, 291.7, 292.2, 292.7, 293.0, 293.3, 293.6, 293.9,
             294.2, 294.5, 295.6, 296.5, 297.8]
qq1_pca = [295.1, 295.4, 295.7, 295.95, 296.15, 296.4, 296.6, 296.8, 297.0, 297.2, 297.45, 297.65, 297.75, 297.95, 298.1,
           298.2, 298.45, 298.7, 298.85, 299.0, 299.15, 299.3, 299.4, 299.55, 299.85, 300.1, 300.35, 300.5, 300.65, 300.8,
           300.95, 301.25, 301.65, 302.0, 302.7]
qq1_eqm = [295.1, 295.4, 295.7, 296.0, 296.2, 296.4, 296.6, 296.8, 297.0, 297.2, 297.3, 297.5, 297.6, 297.8, 298.0,
           298.1, 298.3, 298.5, 298.7, 299.0, 299.2, 299.5, 299.6, 299.8, 300.1, 300.3, 300.5, 300.6, 300.8, 300.8,
           300.9, 301.1, 301.4, 301.7, 302.2]
qq1_ideal = [295.1, 302.2]

qq2_model = [291.8, 292.3, 292.5, 292.8, 293.0, 293.1, 293.3, 293.5, 293.6, 293.8, 294.0, 294.1, 294.3, 294.5, 294.8,
             295.0, 295.2, 295.4, 295.6, 295.8, 296.0, 296.2, 296.4, 296.5, 296.7, 296.9, 297.05, 297.2, 297.4, 297.6,
             297.8, 298.1, 298.3, 298.5, 298.8, 299.2]
qq2_noadj = [287.7, 289.2, 290.1, 290.6, 291.2, 291.6, 292.0, 292.2, 292.5, 292.7, 293.2, 293.4, 293.6, 294.0, 294.3,
             294.7, 294.8, 295.3, 295.6, 296.0, 296.2, 296.8, 297.1, 297.5, 298.0, 298.3, 298.8, 299.2, 299.4, 299.8,
             300.2, 300.5, 300.9, 301.1, 301.7, 302.2]
qq2_pca = [291.2, 292.1, 292.5, 292.8, 293.1, 293.35, 293.5, 293.65, 293.75, 293.9, 294.1, 294.2, 294.35, 294.55, 294.8,
           295.0, 295.05, 295.3, 295.45, 295.7, 295.8, 296.15, 296.3, 296.45, 296.7, 296.95, 297.1, 297.35, 297.5, 297.7,
           297.9, 298.05, 298.25, 298.4, 298.75, 299.05]
qq2_eqm = [291.8, 292.3, 292.5, 292.8, 293.0, 293.1, 293.3, 293.5, 293.6, 293.8, 294.0, 294.1, 294.3, 294.5, 294.8,
           295.0, 295.2, 295.4, 295.6, 295.8, 296.0, 296.2, 296.4, 296.5, 296.7, 296.9, 297.05, 297.2, 297.4, 297.6,
           297.8, 298.1, 298.3, 298.5, 298.8, 299.2]
qq2_ideal = [291.8, 299.2]

# Two-day samples of the Point 1 time series, January 2013 to December 2014
ts_reference = [
    296.7, 297.4, 296.9, 296.3, 298.5, 297.3, 296.8, 294.7, 295.9, 295.6, 296.2, 297.0, 298.1, 296.6, 297.6,
    297.4, 295.8, 296.9, 298.1, 296.2, 297.2, 295.2, 298.3, 297.0, 296.4, 298.6, 296.8, 295.3, 296.9, 297.9,
    298.2, 295.6, 296.8, 297.8, 294.4, 295.9, 294.2, 297.2, 296.1, 295.3, 298.4, 297.0, 296.2, 295.6, 297.2,
    298.1, 296.1, 297.3, 298.6, 296.8, 297.7, 298.0, 295.8, 296.9, 298.2, 297.0, 297.7, 295.9, 298.0, 296.8,
    296.2, 297.4, 296.6, 295.6, 298.6, 297.2, 296.3, 297.8, 296.9, 296.1, 298.2, 297.3, 296.9, 297.6, 297.1,
    298.2, 296.5, 297.5, 298.6, 297.4, 298.1, 299.0, 297.0, 298.2, 299.6, 297.6, 298.6, 298.6, 299.2, 298.1,
    298.8, 300.3, 299.2, 298.2, 300.8, 299.4, 298.4, 301.0, 299.7, 298.6, 300.6, 299.5, 299.0, 301.3, 300.0,
    299.2, 301.5, 300.2, 299.8, 301.6, 300.6, 299.3, 302.0, 300.8, 300.1, 301.8, 300.9, 299.6, 302.3, 300.9,
    300.3, 302.0, 301.0, 299.8, 302.6, 301.2, 300.4, 301.5, 300.8, 300.0, 302.1, 300.9, 299.8, 301.4, 300.5,
    300.3, 302.8, 301.2, 299.9, 301.7, 300.7, 299.6, 301.3, 300.1, 298.8, 301.6, 300.2, 298.4, 300.9, 299.6,
    299.2, 301.2, 300.0, 298.5, 300.9, 299.3, 297.4, 299.3, 298.2, 296.8, 298.7, 297.9, 297.0, 299.9, 298.4,
    298.2, 296.6, 297.6, 300.0, 297.2, 298.3, 296.9, 299.0, 297.9, 297.5, 298.4, 297.2, 296.6, 298.9, 297.6,
    296.2, 298.3, 297.2, 296.4, 297.9, 296.9, 295.8, 298.8, 297.0, 295.4, 297.3, 296.6, 296.3, 298.7, 297.2,
    296.1, 298.4, 297.1, 295.5, 298.2, 297.0, 296.4, 298.6, 297.3, 295.5, 298.1, 297.0, 296.6, 297.4, 296.4,
    295.0, 298.3, 297.0, 296.3, 297.9, 296.8, 295.6, 298.4, 296.6, 294.6, 297.9, 296.7, 296.2, 298.7, 297.1,
    295.8, 297.4, 296.6, 295.0, 297.2, 296.0, 294.9, 296.6, 297.5, 298.0, 295.9, 297.0, 298.5, 296.6, 297.7,
    298.4, 295.7, 296.8, 297.8, 299.2, 298.0, 295.9, 300.1, 297.9, 296.0, 298.2, 298.7, 299.0, 297.2, 298.4,
    299.3, 297.6, 298.5, 300.4, 297.9, 299.2, 300.2, 298.4, 299.4, 300.6, 298.7, 299.6, 301.0, 299.0, 300.0,
    300.0, 301.5, 300.2, 299.0, 301.0, 299.9, 298.9, 300.9, 299.8, 298.6, 301.2, 299.7, 298.4, 301.9, 300.2,
    299.5, 301.6, 300.4, 299.0, 302.0, 300.7, 299.4, 302.2, 300.9, 300.2, 302.4, 301.1, 300.0, 301.8, 300.8,
    299.9, 302.2, 301.0, 300.6, 301.8, 301.2, 300.0, 302.4, 301.1, 300.5, 303.4, 301.9, 301.2, 299.9, 300.8,
    302.0, 298.9, 300.3, 301.2, 302.7, 301.4, 300.1, 302.4, 301.0, 299.5, 301.9, 300.6, 299.4, 300.7, 300.1,
    301.9, 299.5, 300.6, 301.8, 299.2, 300.4, 301.9, 298.2, 300.0, 301.2, 298.6, 299.9, 300.9, 299.2, 300.1,
    301.0, 298.2, 299.4, 300.8, 297.2, 298.9, 300.3, 297.7, 299.0, 299.8, 297.5, 298.6, 299.4, 296.9, 297.9,
    298.5, 296.6, 297.6, 298.5, 297.0, 298.5,
]
ts_unadjusted = [
    287.1, 286.2, 287.8, 289.2, 290.6, 288.4, 285.3, 284.2, 286.9, 292.0, 294.7, 290.8, 289.2, 284.7, 286.8,
    288.5, 291.9, 288.2, 285.3, 287.5, 285.0, 283.1, 291.6, 287.3, 284.1, 287.2, 285.6, 289.0, 286.0, 288.4,
    293.5, 288.2, 287.0, 285.1, 284.0, 287.4, 291.2, 287.0, 289.1, 285.7, 289.8, 287.3, 291.6, 286.5, 288.7,
    289.0, 290.2, 287.9, 286.2, 288.6, 287.2, 285.0, 290.0, 287.7, 285.6, 284.2, 286.8, 288.4, 290.0, 287.9,
    295.0, 285.3, 287.6, 288.7, 290.2, 288.9, 297.2, 290.5, 288.3, 286.1, 291.0, 288.4, 287.4, 289.3, 288.1,
    291.0, 287.2, 289.2, 288.9, 285.9, 287.6, 292.5, 288.0, 289.9, 290.7, 289.2, 290.6, 291.2, 295.0, 292.0,
    292.3, 290.0, 291.2, 293.2, 290.6, 291.8, 292.4, 296.0, 292.1, 289.0, 291.5, 290.4, 293.8, 290.7, 291.9,
    288.8, 291.7, 290.1, 290.2, 289.2, 290.8, 291.9, 293.9, 292.0, 291.0, 289.2, 290.6, 292.4, 297.2, 293.8,
    298.2, 292.2, 293.6, 295.5, 298.5, 294.1, 290.3, 293.4, 292.4, 295.4, 291.1, 292.6, 288.6, 292.5, 290.2,
    295.8, 290.4, 292.8, 296.8, 291.2, 293.0, 289.0, 292.2, 291.0, 290.9, 294.2, 292.1, 291.0, 287.9, 289.4,
    290.6, 296.6, 291.4, 287.0, 295.1, 290.7, 289.5, 295.4, 291.2, 287.2, 290.7, 289.6, 291.5, 288.3, 290.0,
    293.3, 289.4, 291.1, 292.9, 285.9, 289.2, 288.4, 286.5, 287.9, 289.0, 294.0, 289.7, 285.4, 289.9, 287.8,
    293.8, 288.0, 289.6, 287.2, 293.4, 289.9, 290.7, 287.1, 288.4, 289.6, 295.0, 290.9, 289.9, 287.7, 288.9,
    291.1, 289.2, 290.3, 291.4, 285.9, 288.0, 288.3, 290.4, 289.1, 295.6, 289.2, 290.6, 286.6, 294.9, 289.3,
    286.9, 290.7, 288.5, 287.1, 291.4, 289.1, 293.4, 285.7, 288.9, 296.0, 289.0, 288.0, 290.2, 285.7, 287.6,
    288.2, 290.3, 288.0, 285.7, 288.6, 287.1, 298.0, 284.4, 288.6, 293.8, 286.5, 288.0, 289.3, 290.0, 288.1,
    285.7, 290.7, 288.4, 297.2, 291.0, 289.2, 286.4, 290.3, 288.0, 299.6, 292.0, 289.4, 287.3, 288.9, 288.0,
    290.0, 289.0, 290.6, 293.0, 289.6, 290.3, 287.5, 291.3, 289.6, 289.2, 294.0, 290.7, 290.6, 288.6, 290.3,
    294.2, 291.0, 292.0, 290.0, 295.8, 292.6, 292.1, 289.9, 291.6, 293.0, 291.0, 292.0, 290.1, 296.9, 292.8,
    292.2, 295.8, 293.0, 292.9, 294.1, 293.3, 290.7, 296.3, 293.0, 291.5, 296.9, 293.5, 292.7, 297.8, 294.4,
    294.4, 299.7, 295.1, 292.5, 295.6, 294.2, 299.7, 294.0, 295.4, 293.4, 300.4, 295.8, 296.1, 291.3, 293.9,
    297.1, 291.8, 293.5, 294.0, 299.7, 295.2, 299.6, 293.3, 294.7, 290.4, 293.7, 292.5, 291.9, 294.2, 292.8,
    296.6, 290.6, 292.7, 294.4, 290.5, 292.6, 298.4, 293.2, 294.8, 289.0, 294.1, 292.3, 291.0, 294.2, 292.5,
    291.5, 295.8, 292.7, 290.3, 295.8, 292.4, 291.0, 293.2, 292.2, 292.9, 291.2, 292.1, 288.6, 291.5, 290.0,
    295.4, 290.2, 288.9, 286.8, 288.6, 285.7,
]
ts_adjusted = [
    296.2, 297.4, 296.7, 296.9, 298.2, 297.1, 295.9, 295.0, 296.8, 298.0, 300.4, 298.3, 297.2, 294.7, 296.2,
    297.5, 298.1, 297.0, 296.0, 297.8, 296.4, 293.9, 297.5, 295.8, 293.9, 297.1, 296.0, 295.6, 296.8, 297.7,
    299.6, 294.4, 296.2, 296.6, 294.5, 296.0, 297.5, 295.7, 296.9, 298.4, 296.5, 297.2, 298.7, 295.9, 297.1,
    297.6, 296.1, 296.9, 295.5, 297.4, 296.5, 296.1, 297.9, 297.0, 299.1, 295.0, 296.6, 297.2, 296.6, 297.8,
    300.5, 296.8, 297.7, 298.6, 296.9, 297.8, 301.6, 297.4, 298.1, 296.6, 299.2, 297.9, 297.2, 298.7, 297.6,
    297.3, 299.0, 298.1, 297.0, 298.3, 297.6, 300.4, 298.0, 298.8, 297.5, 299.9, 298.7, 301.2, 298.6, 299.7,
    300.6, 298.8, 299.7, 301.3, 299.0, 300.1, 300.9, 299.2, 300.2, 301.7, 299.9, 300.6, 301.0, 298.9, 299.8,
    300.3, 299.3, 300.4, 301.0, 299.4, 300.2, 300.7, 300.0, 300.6, 301.2, 299.3, 300.4, 300.8, 302.7, 301.0,
    299.8, 301.4, 300.5, 302.7, 300.0, 301.0, 301.2, 298.6, 299.7, 300.4, 297.9, 299.3, 300.3, 298.7, 299.5,
    300.6, 298.5, 299.6, 301.8, 298.7, 299.9, 300.5, 298.2, 299.2, 300.4, 298.0, 299.0, 299.6, 297.8, 298.9,
    301.0, 298.4, 299.6, 296.9, 300.9, 298.6, 298.0, 300.0, 298.9, 297.3, 298.9, 298.2, 297.0, 299.2, 298.5,
    300.3, 296.9, 298.4, 298.8, 296.5, 297.8, 299.1, 297.0, 298.0, 298.3, 300.6, 298.3, 295.8, 298.9, 297.6,
    300.2, 297.4, 298.7, 300.1, 296.9, 298.2, 299.9, 297.6, 298.3, 296.7, 299.0, 297.8, 300.4, 298.1, 299.0,
    296.0, 298.4, 297.2, 296.7, 298.0, 297.3, 296.9, 298.6, 297.7, 300.8, 296.3, 297.6, 298.7, 300.4, 298.2,
    296.4, 298.2, 297.3, 296.9, 298.8, 297.6, 299.8, 295.3, 297.4, 300.7, 297.2, 297.9, 298.0, 295.3, 296.9,
    297.1, 296.1, 297.0, 298.2, 296.7, 297.5, 302.0, 297.2, 298.3, 295.2, 300.2, 297.5, 296.8, 298.4, 297.4,
    296.1, 301.6, 298.2, 301.4, 297.8, 298.6, 296.5, 298.8, 297.4, 302.6, 299.2, 298.4, 296.6, 298.3, 297.5,
    297.2, 299.7, 298.3, 297.6, 299.8, 298.5, 297.6, 299.3, 298.4, 298.0, 299.9, 298.7, 297.1, 299.9, 298.6,
    298.4, 300.6, 299.5, 299.4, 301.7, 300.1, 299.0, 300.9, 299.8, 299.2, 301.2, 300.0, 298.9, 301.9, 300.4,
    299.7, 301.4, 300.5, 299.3, 300.8, 300.1, 299.5, 301.7, 300.6, 299.8, 301.3, 300.4, 300.0, 301.9, 300.8,
    300.3, 303.2, 301.4, 300.5, 302.0, 301.2, 303.2, 300.6, 301.7, 301.8, 303.4, 301.5, 301.3, 299.7, 300.8,
    301.9, 299.9, 300.7, 301.0, 302.9, 301.4, 302.8, 300.7, 301.5, 298.8, 301.0, 300.0, 299.0, 300.6, 299.7,
    301.8, 298.9, 300.1, 300.7, 297.7, 299.4, 301.9, 299.6, 300.5, 298.0, 300.4, 299.3, 298.2, 300.1, 299.2,
    300.9, 298.3, 299.5, 299.9, 300.8, 299.6, 298.5, 299.9, 299.0, 297.8, 296.9, 298.4, 299.2, 297.5, 298.5,
    300.8, 299.2, 298.6, 297.4, 296.2, 296.2,
]
time_ticks = ["2013-01-01", "2013-04-01", "2013-07-01", "2013-10-01", "2014-01-01", "2014-04-01",
              "2014-07-01", "2014-10-01", "2015-01-01"]
time_labels = ["2013", "Apr", "Jul", "Oct", "2014", "Apr", "Jul", "Oct", "2015"]


def unpack(*tables):
    xs, ys = [], []
    for columns in tables:
        for x, values in columns.items():
            xs += [x] * len(values)
            ys += values
    return xs, ys


W, H = 1037, 1316


def xdom(left, right):
    return [left / W, right / W]


def ydom(top, bottom):
    return [1 - bottom / H, 1 - top / H]


fig = go.Figure()


def points(tables, name, color, size, legend, axes=("x", "y")):
    xs, ys = unpack(*tables)
    fig.add_trace(go.Scatter(x=xs, y=ys, mode="markers", name="\u00a0" + name, legend=legend,
                             marker=dict(color=color, size=size, line=dict(width=0)),
                             xaxis=axes[0], yaxis=axes[1]))


def curve(x, y, name, color, legend, axes, width=2.5, dash="solid"):
    fig.add_trace(go.Scatter(x=x, y=y, mode="lines", name="\u00a0" + name, legend=legend,
                             line=dict(color=color, width=width, dash=dash),
                             xaxis=axes[0], yaxis=axes[1]))


points([reference_columns, reference_core_columns], "Reference", BLUE, 8.8, "legend")
points([simulation_columns, simulation_core_columns], "Simulation", GREEN, 5.0, "legend")
points([adjusted_columns, adjusted_core_columns], "Adjusted - PCA+EQM", RED, 3.8, "legend")

curve(qq1_model, qq1_noadj, "No adj", BLUE, "legend2", ("x2", "y2"))
curve(qq1_model, qq1_pca, "PCA", GREEN, "legend2", ("x2", "y2"))
curve(qq1_model, qq1_eqm, "PCA+EQM", RED, "legend2", ("x2", "y2"))
curve(qq1_ideal, qq1_ideal, "Ideal", "black", "legend2", ("x2", "y2"), 2, "2px,2.8px")

curve(qq2_model, qq2_noadj, "No adj", BLUE, "legend3", ("x3", "y3"))
curve(qq2_model, qq2_pca, "PCA", GREEN, "legend3", ("x3", "y3"))
curve(qq2_model, qq2_eqm, "PCA+EQM", RED, "legend3", ("x3", "y3"))
curve(qq2_ideal, qq2_ideal, "Ideal", "black", "legend3", ("x3", "y3"), 2, "2px,2.8px")

for series, name, color in ((ts_reference, "Reference", BLUE), (ts_unadjusted, "Unadjusted sim", GREEN),
                            (ts_adjusted, "PCA+EQM", RED)):
    dates = pd.date_range("2013-01-01", "2014-12-31", periods=len(series))
    curve(dates, series, name, color, "legend4", ("x4", "y4"), 3.0)

FONT = "DejaVu Sans"
TICK = dict(family=FONT, size=13.5, color=INK)
LEGEND = dict(family=FONT, size=13.9, color=INK)
LABEL = dict(family=FONT, size=15.3, color=INK)


def axis(ticklen, **kw):
    base = dict(showgrid=True, gridcolor="white", gridwidth=1.3, zeroline=False, showline=False,
                ticks="outside", tickcolor="rgba(0,0,0,0)", ticklen=ticklen, tickfont=TICK, automargin=False)
    base.update(kw)
    return base


def legend_at(left, top):
    return dict(x=left / W, y=1 - top / H, xref="paper", yref="paper", xanchor="left", yanchor="top",
                bgcolor="rgba(0,0,0,0)", borderwidth=0, font=LEGEND, itemwidth=30,
                itemsizing="trace")


y_ticks = dict(tick0=0, dtick=2.5, tickformat=".1f")

fig.update_layout(
    width=W, height=H, autosize=False, showlegend=True,
    margin=dict(l=0, r=0, t=0, b=0, pad=0),
    paper_bgcolor="white", plot_bgcolor="#EAEAF2",
    font=dict(family=FONT, color=INK),
    xaxis=axis(4, domain=xdom(98, 1028), range=[282.085, 304.4], anchor="y", tick0=0, dtick=2.5, tickformat=".1f",
               title=dict(text="Point 1", font=LABEL, standoff=8)),
    yaxis=axis(9, domain=ydom(30, 392), range=[284.53, 304.08], anchor="x",
               title=dict(text="Point 2", font=LABEL, standoff=3), **y_ticks),
    xaxis2=axis(4, domain=xdom(98, 520), range=[294.754, 302.55], anchor="y2", dtick=1, tick0=0,
                title=dict(text="Model", font=LABEL, standoff=8)),
    yaxis2=axis(9, domain=ydom(465, 826.7), range=[283.71, 303.62], anchor="x2", **y_ticks),
    xaxis3=axis(4, domain=xdom(605, 1028), range=[291.416, 299.57], anchor="y3", dtick=1, tick0=0,
                title=dict(text="Model", font=LABEL, standoff=8)),
    yaxis3=axis(9, domain=ydom(465, 826.7), range=[283.71, 303.62], anchor="x3", **y_ticks),
    xaxis4=axis(4, domain=xdom(98, 1028), range=["2012-11-25 12:00", "2015-02-06"], anchor="y4", type="date",
                tickmode="array", tickvals=time_ticks, ticktext=time_labels,
                title=dict(text="Time", font=LABEL, standoff=8)),
    yaxis4=axis(9, domain=ydom(899, 1262), range=[282.09, 304.43], anchor="x4",
                title=dict(text="4xDaily Air temperature at<br>sigma level 995 [degK]", font=LABEL, standoff=2),
                **y_ticks),
    legend=legend_at(104, 33),
    legend2=legend_at(104, 468),
    legend3=legend_at(611, 468),
    legend4=legend_at(104, 902),
)

for text, ref in (("PC-space", "x"), ("QQ plot - Point 1", "x2"), ("QQ plot - Point 2", "x3"),
                  ("Timeseries - Point 1", "x4")):
    yref = ref.replace("x", "y")
    fig.add_annotation(text=text, x=0.5, y=1, xref=f"{ref} domain", yref=f"{yref} domain", xanchor="center",
                       yanchor="bottom", yshift=2, showarrow=False, font=dict(family=FONT, size=16.4, color=INK))

fig.write_html("out.html")
